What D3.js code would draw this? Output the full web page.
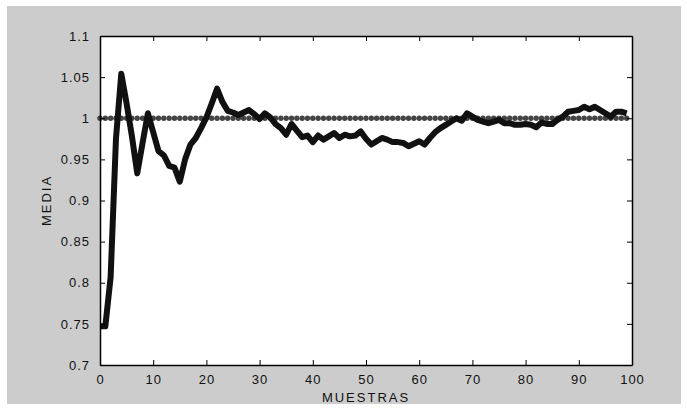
<!DOCTYPE html>
<html>
<head>
<meta charset="utf-8">
<script src="https://cdn.jsdelivr.net/npm/d3@7"></script>
<style>
  body { margin: 0; background: #fff; }
  svg { display: block; font-family: "Liberation Sans", Arial, sans-serif; }
</style>
</head>
<body>
<svg id="chart" width="687" height="409"></svg>
<script>
// media de las muestras, x = 0..99
var media = [
  0.747, 0.747, 0.807, 0.975, 1.054, 1.018, 0.978, 0.933, 0.970, 1.006,
  0.983, 0.960, 0.955, 0.942, 0.940, 0.923, 0.950, 0.968, 0.976, 0.988,
  1.001, 1.018, 1.036, 1.020, 1.009, 1.007, 1.004, 1.007, 1.010, 1.005,
  0.999, 1.006, 1.001, 0.993, 0.988, 0.980, 0.993, 0.985, 0.977, 0.979,
  0.971, 0.979, 0.974, 0.978, 0.982, 0.976, 0.980, 0.978, 0.979, 0.984,
  0.975, 0.968, 0.972, 0.976, 0.974, 0.971, 0.971, 0.970, 0.966, 0.969,
  0.972, 0.968, 0.976, 0.983, 0.988, 0.992, 0.996, 1.000, 0.997, 1.006,
  1.002, 0.998, 0.996, 0.994, 0.996, 0.998, 0.994, 0.994, 0.992, 0.992,
  0.993, 0.992, 0.989, 0.995, 0.993, 0.993, 0.998, 1.002, 1.008, 1.009,
  1.010, 1.014, 1.011, 1.014, 1.010, 1.006, 1.002, 1.008, 1.008, 1.006
];
var referencia = 1;
var xTicks = [0, 10, 20, 30, 40, 50, 60, 70, 80, 90, 100];
var yTicks = [0.7, 0.75, 0.8, 0.85, 0.9, 0.95, 1, 1.05, 1.1];
var yTickLabels = ["0.7", "0.75", "0.8", "0.85", "0.9", "0.95", "1", "1.05", "1.1"];

var svg = d3.select("#chart");
var margin = {top: 36, left: 100, right: 55, bottom: 44};
var w = 687 - margin.left - margin.right;
var h = 409 - margin.top - margin.bottom;

// gray frame
svg.append("rect")
  .attr("x", 7).attr("y", 6)
  .attr("width", 674).attr("height", 398)
  .attr("fill", "#cccccc");

var g = svg.append("g")
  .attr("transform", "translate(" + margin.left + "," + margin.top + ")");

var x = d3.scaleLinear().domain([0, 100]).range([0, w]);
var y = d3.scaleLinear().domain([0.7, 1.1]).range([h, 0]);

g.append("rect")
  .attr("width", w).attr("height", h)
  .attr("fill", "#fff");

// reference line at 1, drawn as dots
g.selectAll(".dot")
  .data(d3.range(media.length))
  .enter().append("circle")
  .attr("class", "dot")
  .attr("cx", function(d) { return x(d); })
  .attr("cy", y(referencia))
  .attr("r", 2.7)
  .attr("fill", "#444");

var line = d3.line()
  .x(function(d, i) { return x(i); })
  .y(function(d) { return y(d); });

g.append("path")
  .datum(media)
  .attr("d", line)
  .attr("fill", "none")
  .attr("stroke", "#111")
  .attr("stroke-width", 6)
  .attr("stroke-linejoin", "round");

// axes, ticks inward
var fmt = function(d, i) { return yTickLabels[yTicks.indexOf(d)]; };

var xAxis = g.append("g")
  .attr("transform", "translate(0," + h + ")")
  .call(d3.axisBottom(x).tickValues(xTicks).tickSizeInner(-5).tickSizeOuter(0).tickPadding(10));
var xTop = g.append("g")
  .call(d3.axisTop(x).tickValues(xTicks).tickSizeInner(-5).tickSizeOuter(0).tickFormat(""));
var yAxis = g.append("g")
  .call(d3.axisLeft(y).tickValues(yTicks).tickFormat(fmt).tickSizeInner(-5).tickSizeOuter(0).tickPadding(10));
var yRight = g.append("g")
  .attr("transform", "translate(" + w + ",0)")
  .call(d3.axisRight(y).tickValues(yTicks).tickSizeInner(-5).tickSizeOuter(0).tickFormat(""));

[xAxis, xTop, yAxis, yRight].forEach(function(a) {
  a.select(".domain").attr("stroke", "#000").attr("stroke-width", 1.5);
  a.selectAll(".tick line").attr("stroke", "#000");
  a.selectAll("text")
    .attr("fill", "#111")
    .style("font-size", "13px")
    .style("letter-spacing", "1px")
    .style("font-family", "'Liberation Sans', Arial, sans-serif");
});

svg.append("text")
  .attr("x", margin.left + w / 2)
  .attr("y", 402)
  .attr("text-anchor", "middle")
  .attr("fill", "#111")
  .style("font-size", "13px")
  .style("letter-spacing", "2px")
  .text("MUESTRAS");

svg.append("text")
  .attr("transform", "translate(51," + (margin.top + h / 2) + ") rotate(-90)")
  .attr("text-anchor", "middle")
  .attr("fill", "#111")
  .style("font-size", "13px")
  .style("letter-spacing", "2px")
  .text("MEDIA");
</script>
</body>
</html>
